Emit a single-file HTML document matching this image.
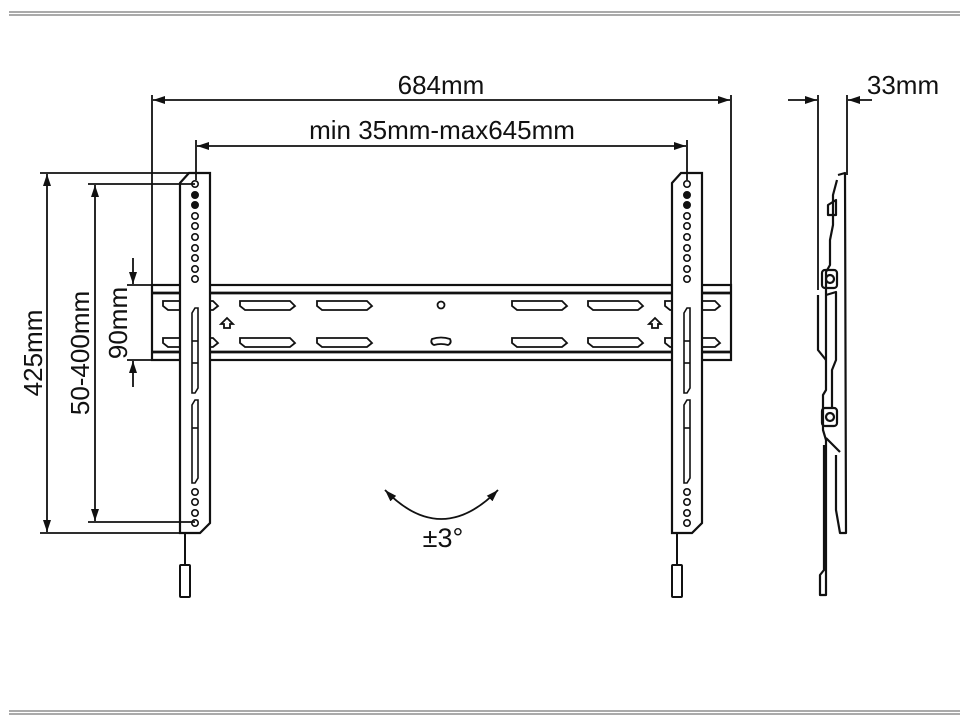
<!DOCTYPE html>
<html><head><meta charset="utf-8"><style>html,body{margin:0;padding:0;background:#fff}svg{display:block}</style></head><body>
<svg width="960" height="720" viewBox="0 0 960 720" xmlns="http://www.w3.org/2000/svg" font-family="Liberation Sans, sans-serif">
<defs>
<marker id="a" markerWidth="12" markerHeight="8" refX="12" refY="4" orient="auto-start-reverse" markerUnits="userSpaceOnUse"><path d="M0,0 L12,4 L0,8 Z" fill="#111"/></marker>
<g id="br">
<path d="M-15,10 L-6,0 L15,0 L15,350 L5,360 L-15,360 Z" fill="#fff" stroke="#111" stroke-width="2.2"/>
<g fill="none" stroke="#111" stroke-width="1.6">
<circle cx="0" cy="11" r="3.2"/><circle cx="0" cy="22" r="3.2" fill="#111"/><circle cx="0" cy="32" r="3.2" fill="#111"/><circle cx="0" cy="43" r="3.2"/><circle cx="0" cy="53" r="3.2"/><circle cx="0" cy="64" r="3.2"/><circle cx="0" cy="75" r="3.2"/><circle cx="0" cy="85" r="3.2"/><circle cx="0" cy="96" r="3.2"/><circle cx="0" cy="106" r="3.2"/>
<path d="M-3,140 L0,135 L3,135 L3,215 L0,220 L-3,220 Z"/>
<path d="M-3,232 L0,227 L3,227 L3,305 L0,310 L-3,310 Z"/>
<line x1="-3" y1="168" x2="3" y2="168"/><line x1="-3" y1="190" x2="3" y2="190"/><line x1="-3" y1="255" x2="3" y2="255"/>
<circle cx="0" cy="319" r="3.2"/><circle cx="0" cy="329" r="3.2"/><circle cx="0" cy="340" r="3.2"/><circle cx="0" cy="350" r="3.2"/>
</g>
<line x1="-10" y1="360" x2="-10" y2="392" stroke="#111" stroke-width="2"/>
<rect x="-15" y="392" width="10" height="32" rx="1" fill="#fff" stroke="#111" stroke-width="2"/>
</g>
<path id="sl" d="M0,0 L50,0 L55,5 L50,9 L5,9 L0,5 Z"/>
</defs>
<g stroke="#777" stroke-width="1.2"><line x1="9" y1="12" x2="960" y2="12"/><line x1="9" y1="15" x2="960" y2="15"/><line x1="9" y1="711" x2="960" y2="711"/><line x1="9" y1="714" x2="960" y2="714"/></g>

<g fill="none" stroke="#111" stroke-width="2.2">
<rect x="152" y="285" width="579" height="75" fill="#fff"/>
<line x1="152" y1="293" x2="731" y2="293" stroke-width="2.8"/>
<line x1="152" y1="352" x2="731" y2="352" stroke-width="2.8"/>
</g>
<g fill="none" stroke="#111" stroke-width="1.8">
<use href="#sl" x="163" y="301"/><use href="#sl" x="240" y="301"/><use href="#sl" x="317" y="301"/><use href="#sl" x="512" y="301"/><use href="#sl" x="588" y="301"/><use href="#sl" x="665" y="301"/>
<use href="#sl" x="163" y="338"/><use href="#sl" x="240" y="338"/><use href="#sl" x="317" y="338"/><use href="#sl" x="512" y="338"/><use href="#sl" x="588" y="338"/><use href="#sl" x="665" y="338"/>
<circle cx="441" cy="305" r="3.5"/>
<path d="M432,339 Q441,336 450,339 Q452,343 448,345 Q441,343 434,345 Q430,343 432,339 Z"/>
<path d="M227,318 L233,324 L230,324 L230,328 L224,328 L224,324 L221,324 Z"/>
<path d="M655,318 L661,324 L658,324 L658,328 L652,328 L652,324 L649,324 Z"/>
</g>
<use href="#br" x="195" y="173"/>
<use href="#br" x="687" y="173"/>

<g stroke="#111" stroke-width="1.8" fill="none">
<line x1="152" y1="95" x2="152" y2="285"/><line x1="731" y1="95" x2="731" y2="285"/>
<line x1="153" y1="100" x2="730" y2="100" marker-start="url(#a)" marker-end="url(#a)"/>
<line x1="196" y1="140" x2="196" y2="180"/><line x1="687" y1="140" x2="687" y2="180"/>
<line x1="197" y1="146" x2="686" y2="146" marker-start="url(#a)" marker-end="url(#a)"/>
<line x1="40" y1="173" x2="190" y2="173"/><line x1="40" y1="533" x2="190" y2="533"/>
<line x1="47" y1="174" x2="47" y2="532" marker-start="url(#a)" marker-end="url(#a)"/>
<line x1="88" y1="184" x2="195" y2="184"/><line x1="88" y1="522" x2="195" y2="522"/>
<line x1="95" y1="185" x2="95" y2="521" marker-start="url(#a)" marker-end="url(#a)"/>
<line x1="127" y1="285" x2="152" y2="285"/><line x1="127" y1="360" x2="152" y2="360"/>
<line x1="133" y1="258" x2="133" y2="284" marker-end="url(#a)"/>
<line x1="133" y1="387" x2="133" y2="361" marker-end="url(#a)"/>
<line x1="818" y1="95" x2="818" y2="290"/><line x1="847" y1="95" x2="847" y2="175"/>
<line x1="788" y1="100" x2="817" y2="100" marker-end="url(#a)"/>
<line x1="872" y1="100" x2="848" y2="100" marker-end="url(#a)"/>
<path d="M385,490 Q441,548 498,490" marker-start="url(#a)" marker-end="url(#a)"/>
</g>
<g fill="#111" font-size="26" text-anchor="middle">
<text x="441" y="94">684mm</text>
<text x="442" y="139">min 35mm-max645mm</text>
<text x="903" y="94">33mm</text>
<text x="443" y="547" font-size="27">±3°</text>
<text transform="translate(42,353) rotate(-90)">425mm</text>
<text transform="translate(89,353) rotate(-90)">50-400mm</text>
<text transform="translate(127,323) rotate(-90)">90mm</text>
</g>

<g fill="none" stroke="#111" stroke-width="2.2" stroke-linejoin="round">
<path d="M838,175 L845,173 L846,533 L840,533 L836,510 L836,455"/>
<path d="M837,180 L833,195 L833,225 L830,240 L830,265 L826,272 L826,390 L823,395 L823,430 L826,440 L826,595 L820,595 L820,575 L824,570 L824,445"/>
<rect x="822" y="270" width="15" height="18" rx="3"/><circle cx="830" cy="279" r="4"/>
<rect x="822" y="408" width="15" height="18" rx="3"/><circle cx="830" cy="417" r="4"/>
<path d="M826,295 L836,292 L836,360 L832,370 L832,408"/>
<path d="M818,295 L818,350 L826,360"/>
<path d="M828,205 L836,200 L836,215 L828,215 Z"/>
<path d="M826,438 L840,452"/>
</g>
</svg>
</body></html>
